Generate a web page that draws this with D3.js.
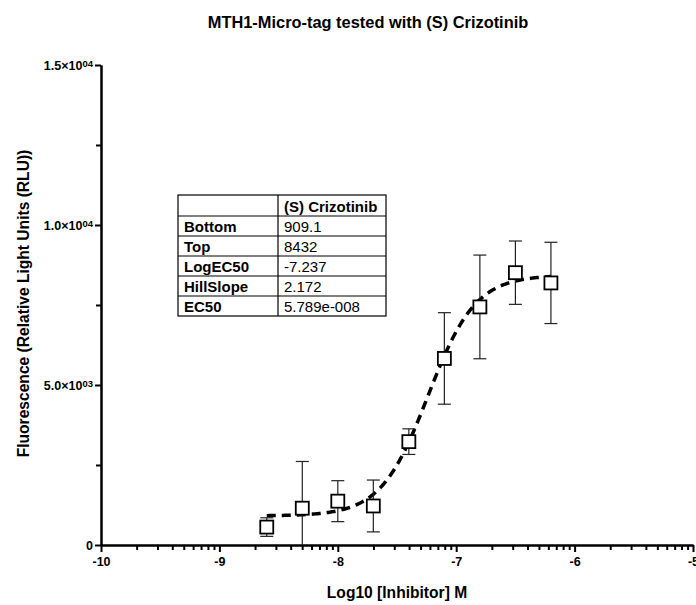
<!DOCTYPE html>
<html>
<head>
<meta charset="utf-8">
<title>MTH1-Micro-tag tested with (S) Crizotinib</title>
<style>
  body { margin: 0; background: #fff; }
  svg { display: block; font-family: Arial, "Liberation Sans", sans-serif; }
  .axis path, .axis line { stroke: #000; }
  .axis path { stroke-width: 2px; }
  .axis line { stroke-width: 2px; }
  .axis text { font-size: 12.5px; font-weight: bold; fill: #000; }
</style>
</head>
<body>
<script src="https://d3js.org/d3.v7.min.js"></script>
<script>

// measured points: log10 concentration, mean RLU, SD
const logConc = [-8.6, -8.3, -8.0, -7.7, -7.4, -7.1, -6.8, -6.5, -6.2];
const meanRLU = [560, 1150, 1370, 1220, 3230, 5830, 7440, 8510, 8190];
const sdRLU   = [290, 1460, 640, 810, 400, 1430, 1620, 990, 1270];

// fit results shown in the table
const fitLabels = ["Bottom", "Top", "LogEC50", "HillSlope", "EC50"];
const fitValues = ["909.1", "8432", "-7.237", "2.172", "5.789e-008"];
const seriesName = "(S) Crizotinib";

const xMajor = [-10, -9, -8, -7, -6, -5];
const yMajor = [0, 5000, 10000, 15000];
const yMinor = [2500, 7500, 12500];

const width = 696, height = 605;

const svg = d3.select("body").append("svg")
  .attr("width", width)
  .attr("height", height);

const x = d3.scaleLinear().domain([-10, -5]).range([101, 693]);
const y = d3.scaleLinear().domain([0, 15000]).range([545, 65]);

// title + axis titles
svg.append("text")
  .attr("x", 368).attr("y", 28)
  .attr("text-anchor", "middle")
  .style("font-size", "16.4px").style("font-weight", "bold")
  .text("MTH1-Micro-tag tested with (S) Crizotinib");

svg.append("text")
  .attr("transform", "translate(28.5,303.5) rotate(-90)")
  .attr("text-anchor", "middle")
  .style("font-size", "15.6px").style("font-weight", "bold")
  .text("Fluorescence (Relative Light Units (RLU))");

svg.append("text")
  .attr("x", 397).attr("y", 598)
  .attr("text-anchor", "middle")
  .style("font-size", "15.6px").style("font-weight", "bold")
  .text("Log10 [Inhibitor] M");

// x axis: minor log ticks then major
const xMinor = [];
for (let d = -10; d < -5; d++) {
  for (let k = 2; k <= 9; k++) xMinor.push(d + Math.log10(k));
}

svg.append("g").attr("class", "axis")
  .attr("transform", "translate(0," + y(0) + ")")
  .call(d3.axisBottom(x).tickValues(xMinor).tickSize(5).tickSizeOuter(0).tickFormat(""));

svg.append("g").attr("class", "axis")
  .attr("transform", "translate(0," + y(0) + ")")
  .call(d3.axisBottom(x).tickValues(xMajor).tickSize(7).tickSizeOuter(0).tickPadding(5)
    .tickFormat(d => String(d)));

// y axis
svg.append("g").attr("class", "axis")
  .attr("transform", "translate(" + x(-10) + ",0)")
  .call(d3.axisLeft(y).tickValues(yMinor).tickSize(5).tickSizeOuter(0).tickFormat(""));

const yAx = svg.append("g").attr("class", "axis")
  .attr("transform", "translate(" + x(-10) + ",0)")
  .call(d3.axisLeft(y).tickValues(yMajor).tickSize(6).tickSizeOuter(0).tickPadding(2).tickFormat(""));

yAx.selectAll(".tick text").each(function(d) {
  const t = d3.select(this);
  if (d === 0) { t.text("0"); return; }
  const e = Math.floor(Math.log10(d));
  const m = (d / Math.pow(10, e)).toFixed(1);
  t.text(null);
  t.append("tspan").text(m + "\u00d710");
  t.append("tspan").attr("dy", "-0.3em").style("font-size", "9.5px")
    .text(String(e).padStart(2, "0"));
});

// fitted curve from table parameters
const fitBottom = +fitValues[0], fitTop = +fitValues[1],
      logEC50 = +fitValues[2], hill = +fitValues[3];
const fit = v => fitBottom + (fitTop - fitBottom) / (1 + Math.pow(10, (logEC50 - v) * hill));
const curveX = d3.range(logConc[0], logConc[logConc.length - 1] + 0.001, 0.01);

svg.append("defs").append("clipPath").attr("id", "plot")
  .append("rect").attr("x", x(-10)).attr("y", y(15000))
  .attr("width", x(-5) - x(-10)).attr("height", y(0) - y(15000));

const plot = svg.append("g").attr("clip-path", "url(#plot)");

plot.append("path")
  .datum(curveX)
  .attr("fill", "none")
  .attr("stroke", "#000")
  .attr("stroke-width", 3.5)
  .attr("stroke-dasharray", "9,6")
  .attr("d", d3.line().x(d => x(d)).y(d => y(fit(d))));

// error bars
const pts = logConc.map((v, i) => ({ x: v, m: meanRLU[i], sd: sdRLU[i] }));

const eb = plot.selectAll(".err").data(pts).enter().append("g")
  .attr("class", "err")
  .attr("stroke", "#222").attr("stroke-width", 1.2);

eb.append("line")
  .attr("x1", d => x(d.x)).attr("x2", d => x(d.x))
  .attr("y1", d => y(d.m + d.sd)).attr("y2", d => y(d.m - d.sd));
eb.append("line")
  .attr("x1", d => x(d.x) - 6.5).attr("x2", d => x(d.x) + 6.5)
  .attr("y1", d => y(d.m + d.sd)).attr("y2", d => y(d.m + d.sd));
eb.append("line")
  .attr("x1", d => x(d.x) - 6.5).attr("x2", d => x(d.x) + 6.5)
  .attr("y1", d => y(d.m - d.sd)).attr("y2", d => y(d.m - d.sd));

// open square markers
svg.selectAll(".pt").data(pts).enter().append("rect")
  .attr("class", "pt")
  .attr("x", d => x(d.x) - 6.5).attr("y", d => y(d.m) - 6.5)
  .attr("width", 13).attr("height", 13)
  .attr("fill", "#fff").attr("stroke", "#000").attr("stroke-width", 1.8);

// results table
const tbl = { x0: 178, x1: 278, x2: 386, y0: 195, headH: 21, rowH: 20 };
const rows = [["", seriesName]].concat(fitLabels.map((l, i) => [l, fitValues[i]]));
const rowTop = i => i === 0 ? tbl.y0 : tbl.y0 + tbl.headH + (i - 1) * tbl.rowH;
const tblBottom = rowTop(rows.length);

const tg = svg.append("g");
tg.append("rect")
  .attr("x", tbl.x0).attr("y", tbl.y0)
  .attr("width", tbl.x2 - tbl.x0).attr("height", tblBottom - tbl.y0)
  .attr("fill", "#fff").attr("stroke", "#000").attr("stroke-width", 1.2);
tg.append("line")
  .attr("x1", tbl.x1).attr("x2", tbl.x1)
  .attr("y1", tbl.y0).attr("y2", tblBottom)
  .attr("stroke", "#000").attr("stroke-width", 1.2);
tg.selectAll(".hl").data(d3.range(1, rows.length)).enter().append("line")
  .attr("x1", tbl.x0).attr("x2", tbl.x2)
  .attr("y1", i => rowTop(i)).attr("y2", i => rowTop(i))
  .attr("stroke", "#000").attr("stroke-width", 1.2);

rows.forEach((r, i) => {
  const by = rowTop(i + 1) - 4.5;
  tg.append("text").attr("x", tbl.x0 + 6).attr("y", by)
    .style("font-size", "15px").style("font-weight", "bold").text(r[0]);
  tg.append("text").attr("x", tbl.x1 + 6).attr("y", by)
    .style("font-size", "15px").style("font-weight", i === 0 ? "bold" : "normal").text(r[1]);
});

</script>
</body>
</html>
